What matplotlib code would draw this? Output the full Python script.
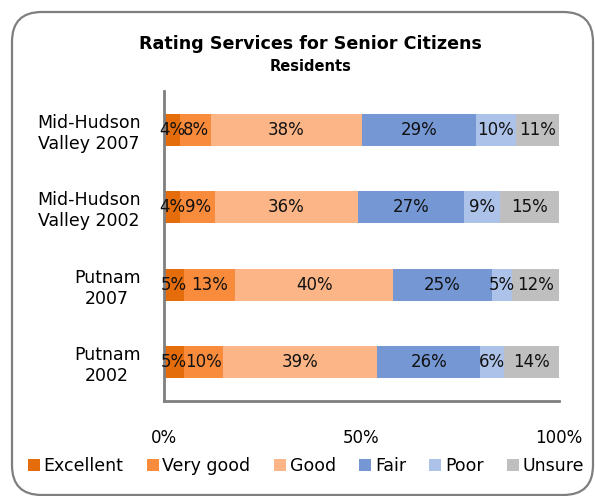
import matplotlib
matplotlib.use("Agg")
import matplotlib.pyplot as plt
from matplotlib.patches import FancyBboxPatch
import numpy as np

categories = ["Mid-Hudson\nValley 2007", "Mid-Hudson\nValley 2002", "Putnam\n2007", "Putnam\n2002"]
series_names = ["Excellent", "Very good", "Good", "Fair", "Poor", "Unsure"]
excellent = [4, 4, 5, 5]
very_good = [8, 9, 13, 10]
good = [38, 36, 40, 39]
fair = [29, 27, 25, 26]
poor = [10, 9, 5, 6]
unsure = [11, 15, 12, 14]
x_ticks = [0, 50, 100]
x_tick_labels = ["0%", "50%", "100%"]

colors = ["#E46C0A", "#F98B3C", "#FCB586", "#7598D5", "#ADC2E8", "#BFBFBF"]

plt.rcParams['font.family'] = ['DejaVu Sans']

fig = plt.figure(figsize=(5.95, 4.96), dpi=100)

# rounded border
border = FancyBboxPatch((12/595, 1/496), (593-12)/595, (484-1)/496,
                        boxstyle="round,pad=0,rounding_size=0.05",
                        transform=fig.transFigure, fill=False,
                        edgecolor="#7F7F7F", linewidth=1.6, mutation_aspect=595/496)
fig.patches.append(border)

ax = fig.add_axes([164/595, 1-401/496, (559-164)/595, (401-91)/496])

series = [excellent, very_good, good, fair, poor, unsure]
y = np.arange(len(categories))
left = np.zeros(len(categories))
for name, vals, c in zip(series_names, series, colors):
    vals = np.array(vals, dtype=float)
    bars = ax.barh(y, vals, left=left, height=0.41, color=c, label=name, edgecolor='none')
    for b, v in zip(bars, vals):
        ax.text(b.get_x() + b.get_width()/2, b.get_y() + b.get_height()/2,
                f"{int(v)}%", ha='center', va='center', fontsize=12, color='#111111')
    left += vals

ax.set_xlim(0, 100)
ax.set_ylim(len(categories)-0.5, -0.5)
ax.set_yticks(y)
ax.set_yticklabels(categories, multialignment='center', fontsize=12.5)
ax.set_xticks(x_ticks)
ax.set_xticklabels(x_tick_labels, fontsize=12)
ax.tick_params(axis='both', length=0)
ax.tick_params(axis='x', pad=20)
ax.tick_params(axis='y', pad=17)
for s in ['top', 'right']:
    ax.spines[s].set_visible(False)
for s in ['left', 'bottom']:
    ax.spines[s].set_color('#7F7F7F')
    ax.spines[s].set_linewidth(2)

fig.text(310/595, 1-44/496, "Rating Services for Senior Citizens", ha='center', va='center',
         fontsize=12.6, fontweight='bold')
fig.text(311/595, 1-67/496, "Residents", ha='center', va='center',
         fontsize=10.5, fontweight='bold')

fig.legend(loc='center', bbox_to_anchor=(306/595, 1-466/496), ncol=6, frameon=False,
           fontsize=12.5, handlelength=0.7, handleheight=0.7, handletextpad=0.2,
           columnspacing=1.35, borderaxespad=0)

fig.savefig("out.png", dpi=100)
